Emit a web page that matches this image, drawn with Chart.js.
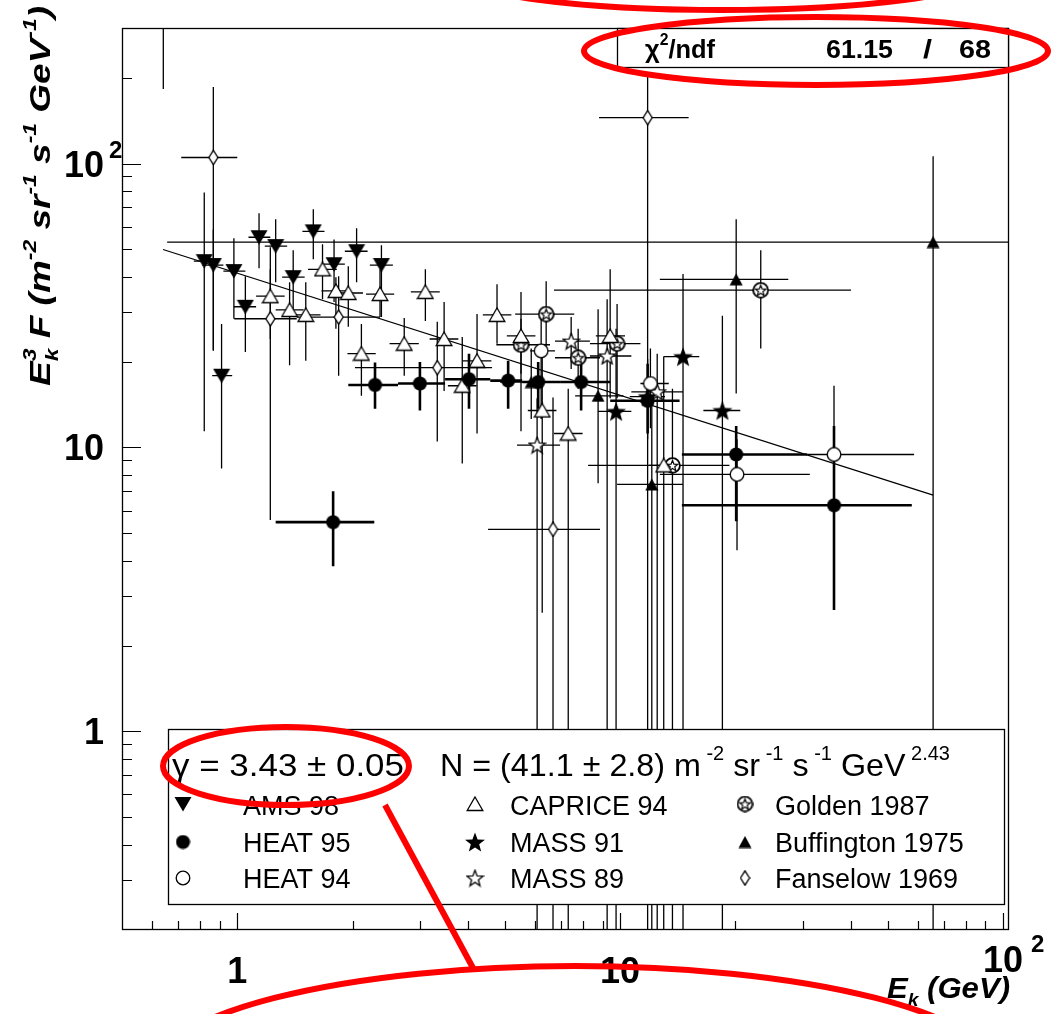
<!DOCTYPE html>
<html>
<head>
<meta charset="utf-8">
<script src="https://cdn.jsdelivr.net/npm/chart.js@4.4.0/dist/chart.umd.min.js"></script>
<style>
  html, body { margin: 0; padding: 0; background: #fff; }
  canvas { display: block; }
</style>
</head>
<body>
<canvas id="spectrum" width="1053" height="1014"></canvas>
<script>
// axis ranges (both logarithmic)
const energyRange = [0.5, 103.7];
const fluxRange = [0.2, 300];
const xTicks = [1, 10, 100];
const xTickLabels = ['1', '10', '10^2'];
const yTicks = [1, 10, 100];
const yTickLabels = ['1', '10', '10^2'];

// power-law fit  E^3 F = N * E^(3 - gamma)
const fitGamma = 3.43, fitGammaErr = 0.05;
const fitNorm = 41.1, fitNormErr = 2.8;
const fitEnergy = [0.64, 65.7];
const chi2 = 61.15, ndf = 68;

// rows: [E, E low, E high, E^3 F, low, high]  (0.01 = bar runs off the bottom)
const ams98 = [
  [0.82, 0.77, 0.87, 45.3, 11.4, 79],
  [0.866, 0.81, 0.92, 43.9, 21.9, 58.6],
  [0.98, 0.92, 1.05, 41.8, 28.4, 54.6],
  [1.05, 0.98, 1.12, 31.3, 21.7, 40.1],
  [1.14, 1.07, 1.22, 55.0, 42.8, 66.8],
  [1.26, 1.18, 1.35, 51.2, 38.2, 63.6],
  [1.40, 1.31, 1.50, 39.8, 30.7, 49.5],
  [1.58, 1.48, 1.69, 57.7, 46.0, 69.0],
  [1.79, 1.67, 1.91, 44.2, 32.5, 54.0],
  [2.05, 1.91, 2.19, 49.1, 38.2, 59.1],
  [2.38, 2.22, 2.55, 43.9, 28.8, 51.5],
  [0.91, 0.86, 0.97, 17.9, 8.44, 27.2]
];
const caprice94 = [
  [1.22, 1.12, 1.33, 34.1, 24.1, 50.7],
  [1.37, 1.26, 1.49, 30.5, 19.5, 38.2],
  [1.51, 1.39, 1.65, 29.3, 20.2, 38.2],
  [1.67, 1.53, 1.82, 42.4, 33.3, 52.0],
  [1.81, 1.66, 1.97, 35.6, 26.2, 39.8],
  [1.95, 1.79, 2.13, 35.0, 26.6, 43.5],
  [2.36, 2.17, 2.57, 34.7, 28.8, 42.4],
  [3.10, 2.84, 3.38, 35.3, 27.9, 42.4],
  [2.11, 1.94, 2.30, 21.4, 15.2, 27.2],
  [2.73, 2.50, 2.98, 23.2, 17.9, 28.6],
  [3.47, 3.18, 3.78, 24.1, 15.8, 32.5],
  [4.23, 3.88, 4.61, 20.2, 11.2, 29.5],
  [3.87, 3.55, 4.22, 16.5, 8.79, 24.5],
  [4.77, 4.38, 5.20, 29.3, 23.2, 37.6],
  [5.51, 5.06, 6.01, 24.7, 11.4, 35.3],
  [6.26, 5.74, 6.82, 13.5, 2.62, 22.3],
  [7.32, 6.72, 7.98, 11.2, 0.01, 16.1],
  [9.42, 8.64, 10.3, 24.7, 14.9, 42.4],
  [13.0, 11.9, 14.2, 8.65, 0.01, 20.9]
];
const heat95 = [
  [2.29, 1.95, 2.63, 16.6, 13.7, 19.9],
  [3.00, 2.63, 3.49, 16.8, 13.5, 20.0],
  [4.03, 3.49, 4.58, 17.4, 13.7, 21.4],
  [5.10, 4.58, 5.55, 17.2, 13.7, 20.2],
  [6.11, 5.55, 6.97, 17.0, 13.7, 20.0],
  [7.91, 6.97, 9.42, 17.0, 13.5, 20.5],
  [11.8, 9.42, 14.3, 14.6, 11.2, 19.7],
  [20.1, 14.5, 30.8, 9.45, 5.50, 11.9],
  [36.2, 14.5, 57.8, 6.26, 2.68, 11.9],
  [1.78, 1.26, 2.28, 5.46, 3.82, 7.01]
];
const heat94 = [
  [6.22, 5.82, 6.76, 21.9, 12.6, 28.4],
  [12.0, 11.3, 13.4, 16.8, 11.7, 22.3],
  [20.2, 12.7, 31.3, 8.04, 4.35, 10.7],
  [36.2, 30.8, 58.6, 9.45, 5.64, 16.5]
];
const mass91 = [
  [9.76, 8.76, 10.7, 13.4, 0.01, 26.2],
  [11.8, 10.6, 13.1, 15.1, 10.7, 20.5],
  [14.6, 13.0, 16.1, 20.9, 0.01, 40.8],
  [18.5, 16.5, 20.6, 13.5, 0.01, 29.1]
];
const mass89 = [
  [6.07, 5.38, 6.97, 10.2, 0.01, 14.9],
  [7.45, 6.76, 8.34, 23.7, 18.9, 28.8],
  [9.25, 8.34, 10.7, 21.0, 0.01, 33.3],
  [12.5, 10.7, 14.6, 15.7, 0.01, 21.4]
];
const golden1987 = [
  [6.41, 5.32, 7.59, 29.5, 22.3, 38.5],
  [5.51, 4.75, 6.56, 23.0, 18.2, 28.4],
  [7.77, 6.76, 8.86, 20.7, 16.1, 26.2],
  [9.82, 8.34, 11.3, 23.2, 14.9, 32.0],
  [13.7, 8.25, 19.3, 8.65, 0.01, 16.1],
  [23.3, 6.72, 40.1, 35.8, 22.3, 49.5]
];
const buffington1975 = [
  [5.86, 4.86, 6.97, 17.0, 12.6, 22.3],
  [8.76, 7.63, 10.2, 15.2, 7.48, 30.7],
  [12.1, 9.82, 14.6, 7.41, 0.01, 14.9],
  [20.1, 12.7, 27.5, 39.1, 15.5, 63.6],
  [65.7, 0.656, 200, 52.9, 0.01, 106]
];
const fanselow1969 = [
  [0.641, 0.641, 0.641, 420, 183, 1000],
  [0.866, 0.714, 1.0, 105, 22, 186],
  [1.22, 0.982, 1.43, 28.4, 5.55, 42.4],
  [1.84, 1.43, 2.36, 28.8, 17.9, 40.1],
  [3.33, 2.03, 4.63, 19.1, 10.5, 27.7],
  [6.68, 4.52, 8.86, 5.15, 0.01, 15.0],
  [11.8, 8.81, 15.1, 145, 0.01, 205]
];

const FONT = '"Liberation Sans", Arial, Helvetica, sans-serif';

// ---- marker images (ROOT-like symbols) ----
function makeMarker(w, h, paint) {
  const c = document.createElement('canvas');
  c.width = w; c.height = h;
  const g = c.getContext('2d');
  g.lineWidth = 1.3;
  g.strokeStyle = '#000';
  g.fillStyle = '#000';
  paint(g, w, h);
  return c;
}
function poly(g, pts) {
  g.beginPath();
  pts.forEach(([px, py], i) => (i ? g.lineTo(px, py) : g.moveTo(px, py)));
  g.closePath();
}
function starPath(g, cx, cy, R, r) {
  const pts = [];
  for (let i = 0; i < 10; i++) {
    const a = -Math.PI / 2 + i * Math.PI / 5;
    const d = i % 2 ? r : R;
    pts.push([cx + d * Math.cos(a), cy + d * Math.sin(a)]);
  }
  poly(g, pts);
}

const markers = {
  triDown: makeMarker(18, 16, (g, w, h) => { poly(g, [[0.5, 1], [w - 0.5, 1], [w / 2, h - 0.5]]); g.fill(); }),
  triOpen: makeMarker(18, 16, (g, w, h) => {
    poly(g, [[w / 2, 1], [w - 1.2, h - 1.5], [1.2, h - 1.5]]);
    g.fillStyle = '#fff'; g.fill(); g.stroke();
  }),
  triUp: makeMarker(14, 13, (g, w, h) => { poly(g, [[w / 2, 0.5], [w - 0.5, h - 0.5], [0.5, h - 0.5]]); g.fill(); }),
  dot: makeMarker(15, 15, (g, w) => { g.beginPath(); g.arc(w / 2, w / 2, 7, 0, 2 * Math.PI); g.fill(); }),
  ring: makeMarker(16, 16, (g, w) => {
    g.beginPath(); g.arc(w / 2, w / 2, 6.8, 0, 2 * Math.PI);
    g.fillStyle = '#fff'; g.fill(); g.stroke();
  }),
  star: makeMarker(22, 22, (g, w) => { starPath(g, w / 2, w / 2 + 1, 10.5, 4.4); g.fill(); }),
  starOpen: makeMarker(19, 19, (g, w) => {
    starPath(g, w / 2, w / 2 + 0.8, 8.5, 3.6);
    g.fillStyle = '#fff'; g.fill(); g.stroke();
  }),
  golden: makeMarker(17, 17, (g, w) => {
    g.beginPath(); g.arc(w / 2, w / 2, 7.4, 0, 2 * Math.PI);
    g.fillStyle = '#fff'; g.fill(); g.lineWidth = 1.8; g.stroke();
    starPath(g, w / 2, w / 2 + 0.6, 5.6, 2.4); g.lineWidth = 1.2; g.stroke();
  }),
  diamond: makeMarker(11, 16, (g, w, h) => {
    poly(g, [[w / 2, 0.8], [w - 1, h / 2], [w / 2, h - 0.8], [1, h / 2]]);
    g.fillStyle = '#fff'; g.fill(); g.stroke();
  })
};

// legend grid order: column by column
const series = [
  { label: 'AMS 98', rows: ams98, marker: markers.triDown, bar: 1.3 },
  { label: 'HEAT 95', rows: heat95, marker: markers.dot, bar: 2.6 },
  { label: 'HEAT 94', rows: heat94, marker: markers.ring, bar: 1.3 },
  { label: 'CAPRICE 94', rows: caprice94, marker: markers.triOpen, bar: 1.3 },
  { label: 'MASS 91', rows: mass91, marker: markers.star, bar: 1.3 },
  { label: 'MASS 89', rows: mass89, marker: markers.starOpen, bar: 1.3 },
  { label: 'Golden 1987', rows: golden1987, marker: markers.golden, bar: 1.3 },
  { label: 'Buffington 1975', rows: buffington1975, marker: markers.triUp, bar: 1.3 },
  { label: 'Fanselow 1969', rows: fanselow1969, marker: markers.diamond, bar: 1.3 }
];

const fitValue = (e) => fitNorm * Math.pow(e, 3 - fitGamma);

const datasets = series.map((s) => ({
  label: s.label,
  data: s.rows.map((r) => ({ x: r[0], xMin: r[1], xMax: r[2], y: r[3], yMin: r[4], yMax: r[5] })),
  pointStyle: s.marker,
  pointRadius: 6,
  errorWidth: s.bar
}));
datasets.push({
  type: 'line',
  label: 'fit',
  data: fitEnergy.map((e) => ({ x: e, y: fitValue(e) })),
  borderColor: '#000',
  borderWidth: 1.3,
  pointRadius: 0,
  fill: false
});

// ---- text helper: runs of [text, 'sup' | 'sub' | '', keepX] ----
function drawRuns(ctx, runs, x, y, size, style, width) {
  const font = (s) => `${style} ${s}px ${FONT}`;
  const parts = runs.map(([t, k, keep]) => {
    const s = k ? size * 0.62 : size;
    ctx.font = font(s);
    return { t, k, s, keep, w: ctx.measureText(t).width };
  });
  const total = parts.reduce((acc, p) => acc + (p.keep ? 0 : p.w), 0);
  ctx.save();
  ctx.translate(x, y);
  ctx.scale(width ? width / total : 1, 1);
  ctx.textAlign = 'left';
  ctx.textBaseline = 'alphabetic';
  let cx = 0;
  for (const p of parts) {
    ctx.font = font(p.s);
    const dy = p.k === 'sup' ? -size * 0.5 : p.k === 'sub' ? size * 0.28 : 0;
    ctx.fillText(p.t, cx, dy);
    if (!p.keep) cx += p.w;
  }
  ctx.restore();
}

// ---- error bars under the markers ----
const errorBars = {
  id: 'errorBars',
  beforeDatasetsDraw(chart) {
    const { ctx, chartArea: a, scales: { x, y } } = chart;
    ctx.save();
    ctx.beginPath();
    ctx.rect(a.left, a.top, a.right - a.left, a.bottom - a.top);
    ctx.clip();
    ctx.strokeStyle = '#000';
    chart.data.datasets.forEach((ds) => {
      if (!ds.errorWidth) return;
      ctx.lineWidth = ds.errorWidth;
      ds.data.forEach((p) => {
        const px = x.getPixelForValue(p.x);
        const py = y.getPixelForValue(p.y);
        ctx.beginPath();
        ctx.moveTo(x.getPixelForValue(p.xMin), py);
        ctx.lineTo(x.getPixelForValue(p.xMax), py);
        ctx.moveTo(px, y.getPixelForValue(p.yMin));
        ctx.lineTo(px, y.getPixelForValue(p.yMax));
        ctx.stroke();
      });
    });
    ctx.restore();
  }
};

// ---- frame, ticks, labels, fit box, legend, markup ----
const decor = {
  id: 'decor',
  afterDraw(chart) {
    const { ctx, chartArea: a, scales: { x, y } } = chart;
    ctx.save();
    ctx.fillStyle = '#000';
    ctx.strokeStyle = '#000';

    // inward ticks on the bottom and left axes
    ctx.lineWidth = 1.2;
    ctx.beginPath();
    for (let d = -1; d <= 2; d++) {
      for (let m = 1; m <= 9; m++) {
        const v = m * Math.pow(10, d);
        if (v > energyRange[0] && v < energyRange[1]) {
          const px = Math.round(x.getPixelForValue(v)) + 0.5;
          ctx.moveTo(px, a.bottom);
          ctx.lineTo(px, a.bottom - (m === 1 ? 17 : 9));
        }
        if (v > fluxRange[0] && v < fluxRange[1]) {
          const py = Math.round(y.getPixelForValue(v)) + 0.5;
          ctx.moveTo(a.left, py);
          ctx.lineTo(a.left + (m === 1 ? 19 : 10), py);
        }
      }
    }
    ctx.stroke();
    ctx.lineWidth = 1.3;
    ctx.strokeRect(a.left + 0.5, a.top + 0.5, a.right - a.left - 1, a.bottom - a.top - 1);

    // tick labels
    xTicks.forEach((v, i) => {
      const [base, exp] = xTickLabels[i].split('^');
      const px = x.getPixelForValue(v);
      ctx.textAlign = 'center';
      ctx.font = `bold 36px ${FONT}`;
      const bw = ctx.measureText(base).width;
      ctx.fillText(base, px, exp ? 972 : 983);
      if (exp) {
        ctx.textAlign = 'left';
        ctx.font = `bold 24px ${FONT}`;
        ctx.fillText(exp, px + bw / 2 + 8, 952);
      }
    });
    yTicks.forEach((v, i) => {
      const [base, exp] = yTickLabels[i].split('^');
      const py = y.getPixelForValue(v);
      ctx.textAlign = 'right';
      ctx.font = `bold 36px ${FONT}`;
      ctx.fillText(base, 104, py + 13);
      if (exp) {
        ctx.textAlign = 'left';
        ctx.font = `bold 24px ${FONT}`;
        ctx.fillText(exp, 109, py - 6);
      }
    });

    // axis titles
    ctx.save();
    ctx.translate(50, 386);
    ctx.rotate(-Math.PI / 2);
    drawRuns(ctx, [['E', ''], ['k', 'sub', true], ['3', 'sup'], [' F (m', ''], ['-2', 'sup'], [' sr', ''], ['-1', 'sup'],
      [' s', ''], ['-1', 'sup'], [' GeV', ''], ['-1', 'sup'], [')', '']], 0, 0, 29, 'italic bold', 380);
    ctx.restore();
    drawRuns(ctx, [['E', ''], ['k', 'sub'], [' (GeV)', '']], 887, 998, 29, 'italic bold', 123);

    // fit statistics box
    ctx.fillStyle = '#fff';
    ctx.fillRect(617, a.top, a.right - 617, 39);
    ctx.lineWidth = 1.3;
    ctx.strokeRect(617.5, a.top + 0.5, a.right - 617 - 1, 39);
    ctx.fillStyle = '#000';
    drawRuns(ctx, [['\u03c7', ''], ['2', 'sup'], ['/ndf', '']], 645, 58, 26, 'bold', 70);
    drawRuns(ctx, [[chi2.toFixed(2), '']], 826, 58, 26, 'bold', 67);
    drawRuns(ctx, [['/', '']], 923, 58, 26, 'bold', 9);
    drawRuns(ctx, [[String(ndf), '']], 959, 58, 26, 'bold', 32);

    // legend box
    ctx.fillStyle = '#fff';
    ctx.fillRect(168, 729, 837, 176);
    ctx.strokeRect(168.5, 729.5, 836, 175);
    ctx.fillStyle = '#000';
    drawRuns(ctx, [[`\u03b3 = ${fitGamma.toFixed(2)} \u00b1 ${fitGammaErr.toFixed(2)}`, '']], 172, 776, 32, '', 232);
    drawRuns(ctx, [[`N = (${fitNorm.toFixed(1)} \u00b1 ${fitNormErr.toFixed(1)}) m`, ''], [' -2', 'sup'], [' sr', ''], [' -1', 'sup'],
      [' s', ''], [' -1', 'sup'], [' GeV', ''], [` ${(fitGamma - 1).toFixed(2)}`, 'sup']], 440, 776, 32, '', 510);
    const colMark = [183, 475, 745], colText = [243, 510, 775];
    const rowMark = [804, 842, 878], rowText = [815, 852, 888];
    series.forEach((s, i) => {
      const c = Math.floor(i / 3), r = i % 3;
      const img = s.marker;
      ctx.drawImage(img, colMark[c] - img.width / 2, rowMark[r] - img.height / 2);
      ctx.font = `27px ${FONT}`;
      ctx.textAlign = 'left';
      ctx.fillText(s.label, colText[c], rowText[r]);
    });

    // red markup
    ctx.strokeStyle = '#ff0000';
    ctx.lineWidth = 6;
    const ellipse = (cx, cy, rx, ry) => {
      ctx.beginPath();
      ctx.ellipse(cx, cy, rx, ry, 0, 0, 2 * Math.PI);
      ctx.stroke();
    };
    ellipse(722, -25, 260, 35);
    ellipse(816, 51, 232, 34);
    ellipse(286, 766, 123, 39);
    ellipse(575, 1075, 425, 109);
    ctx.beginPath();
    ctx.moveTo(385, 805);
    ctx.lineTo(473, 968);
    ctx.stroke();
    ctx.restore();
  }
};

new Chart(document.getElementById('spectrum'), {
  type: 'scatter',
  data: { datasets },
  options: {
    responsive: false,
    animation: false,
    events: [],
    layout: { padding: { left: 122, top: 28, right: 44, bottom: 84 } },
    plugins: { legend: { display: false }, tooltip: { enabled: false } },
    scales: {
      x: { type: 'logarithmic', min: energyRange[0], max: energyRange[1], display: false },
      y: { type: 'logarithmic', min: fluxRange[0], max: fluxRange[1], display: false }
    }
  },
  plugins: [errorBars, decor]
});
</script>
</body>
</html>
